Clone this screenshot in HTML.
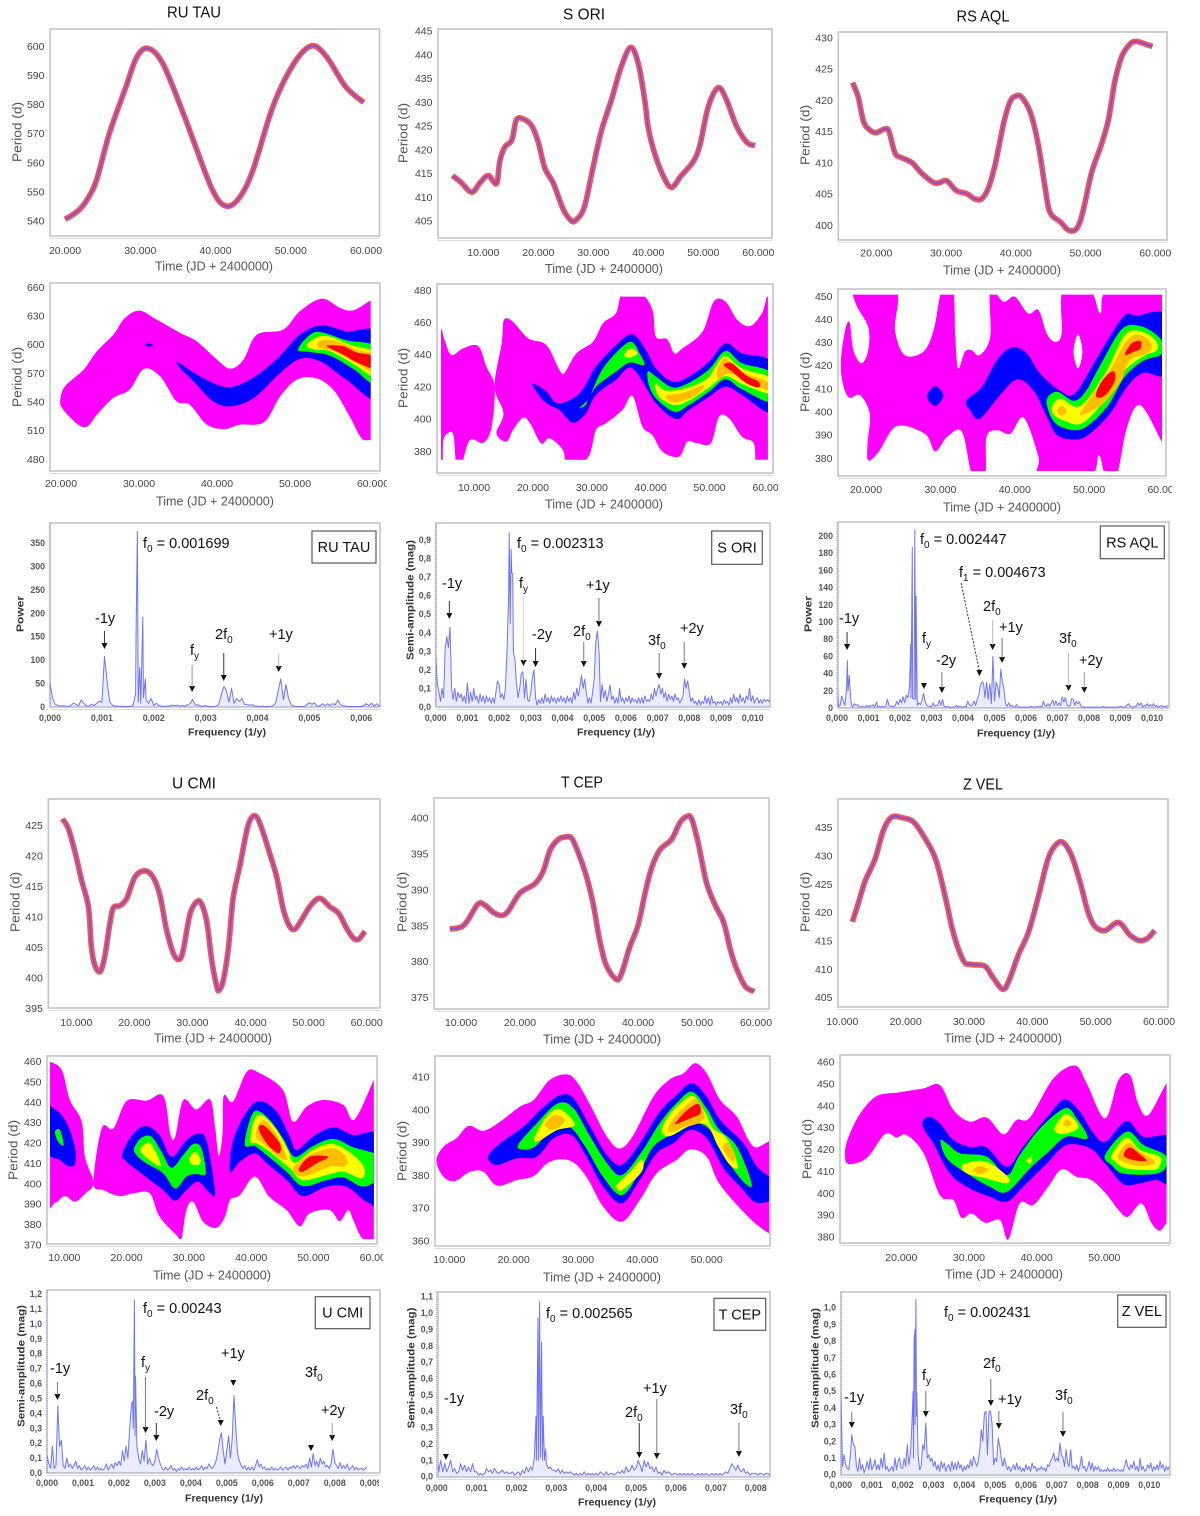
<!DOCTYPE html>
<html lang="en">
<head>
<meta charset="utf-8">
<title>Period variation, wavelet and frequency spectra of six Mira stars</title>
<style>
html,body{margin:0;padding:0;background:#fff;width:1200px;height:1516px;overflow:hidden}
svg{display:block;font-family:"Liberation Sans",sans-serif;filter:blur(.35px)}
</style>
</head>
<body>
<svg id="figure" xmlns="http://www.w3.org/2000/svg" width="1200" height="1516" viewBox="0 0 1200 1516"></svg>
<script>
// ---------- Ridge curves: [time in 1000 d, period in d] ----------
const ruTauRidge=[[20,540.5],[21,542],[22,544],[23,547.5],[24.2,554],[25.9,570],[28.1,586],[29.5,596],[31,599.2],[33,594],[35.7,577],[37,568],[39.6,550.5],[41.4,545],[43.2,548],[45,557.5],[47.6,579],[50.3,593.5],[52.7,600],[54.7,596.5],[57.3,586],[59.7,580.6]];
const sOriRidge=[[4.4,414.5],[6,413],[7.9,411],[9.4,413],[10.9,414.5],[12.4,412.8],[13,417.5],[13.9,420.5],[15.2,422],[16,426.2],[17.3,426.4],[18.8,425],[20,421.5],[21.2,416],[22.7,413],[24.5,407.5],[26,405],[26.9,405.2],[28.4,408],[30,416.5],[31.5,424],[33.3,430.5],[35.1,437.5],[36.8,441.5],[38.2,438],[39.4,430],[40,424.5],[41.2,419],[42.7,414.5],[44.2,412],[46,414.5],[48.2,417.5],[49.4,421],[50.9,429],[52.7,433],[54.2,430.5],[56,425],[57.9,421.5],[59.4,420.8]];
const rsAqlRidge=[[16.6,422.8],[17.4,420.5],[18.2,416.5],[19.1,415.2],[20,414.8],[21.2,415.4],[21.8,415],[22.7,411.5],[23.6,410.8],[25.1,410],[26.5,408.3],[28.2,406.8],[29.1,406.8],[30.1,407.1],[31.5,405.5],[33,405],[34.1,404.2],[35.1,404.2],[36.1,406],[37.1,410],[38.3,416.5],[39.2,419.8],[40.1,420.7],[40.9,420.4],[42.1,418],[43.2,413],[44.2,406],[44.9,402],[46.4,400.5],[47.5,399.2],[48.5,399.2],[49.2,400.5],[49.9,403.5],[50.9,408.5],[52.3,413],[53.3,417],[54.2,423],[55.2,427],[56.4,429],[57.3,429.4],[58.5,429],[59.6,428.6]];
const uCmiRidge=[[7.6,426],[8.6,424.5],[9.8,420.5],[10.9,416],[12.1,411.5],[12.6,405],[13.2,402],[14.1,401],[14.9,403.5],[15.8,409],[16.4,411.5],[17.5,411.8],[18.7,413],[20.1,416.5],[21.8,417.5],[23.2,416.5],[24.4,413.5],[25.5,408],[26.7,404],[27.7,403],[28.4,404.5],[29.6,410.5],[30.8,412.5],[31.6,412],[32.5,409],[33.3,403],[34.2,398.5],[34.6,398],[35.3,399.5],[36.2,405],[37,413],[38.2,418.5],[39.6,425],[40.8,426.5],[41.9,424.5],[43.4,420],[44.5,416.5],[45.7,411],[46.8,408.3],[47.7,408],[48.8,409.5],[50.3,411.8],[51.9,413],[53.7,411.6],[55.2,410.5],[56.6,408],[57.7,406.5],[58.6,406.3],[59.7,407.6]];
const tCepRidge=[[8.1,384.5],[10.1,384.8],[11.2,385.8],[12.9,388],[14.1,387.8],[15.5,386.8],[16.9,386.4],[18,387],[20,389.5],[22.5,390.8],[23.9,392.5],[25.1,395.5],[26.5,397],[27.6,397.3],[28.7,397.2],[29.8,395.3],[31.2,392],[32.4,388],[33.5,383],[34.6,379.5],[36.3,377.5],[37.2,378.3],[38.6,382],[40,385],[41.2,389.5],[42.3,393],[43.7,395.5],[45.7,397],[47.1,399.3],[48.3,400.2],[49.1,399.8],[50.2,396.5],[51.6,391],[53.1,387.8],[54.5,385.5],[55.7,381.5],[56.8,378.8],[58.2,376.5],[59.7,375.8]];
const zVelRidge=[[11.6,418.3],[12.5,421.5],[13.6,425.5],[15.2,429.5],[16.5,434.5],[17.8,436.8],[19.4,436.7],[21.2,436],[22.8,433.5],[24.7,429.5],[26.2,423],[27.5,416.5],[29.1,411.5],[30.4,410.8],[32.5,410.5],[33.8,408.5],[35.4,406.4],[36.5,408.5],[37.8,412.5],[39.4,416.5],[41,423],[42.5,429.5],[43.8,432],[44.9,432.3],[46.2,430],[47.5,425.5],[48.8,420],[49.9,417.5],[51.5,416.8],[53.6,418.2],[55.4,416],[57,415],[58.3,415.5],[59.3,416.8]];

// ---------- Wavelet contour loops: [level, [[time, period], ...]] ----------
const ruTauWavelet=[
["magenta",[[19.9,540.4],[20.5,556],[22.9,573.5],[24.6,592.7],[26.7,610],[28.2,627.6],[30.1,635.2],[32.3,625.8],[35.3,611.9],[37.4,603.1],[40,584],[41.7,574.5],[43.4,584],[45.1,610.1],[48.5,615.4],[50.6,634.5],[53.4,647.8],[55.8,638],[57.5,635.6],[59.7,646],[61,650],[61,495],[59.7,499.6],[58.5,502],[57,524.7],[54.9,552.6],[52.6,564.8],[50.2,563],[48.1,545.6],[46,518.4],[42.9,516],[41,511.4],[38.7,516],[36.5,536.9],[34.8,540.4],[32.7,566.5],[30.6,574.2],[28.8,552.6],[26.7,543.9],[24.6,526.4],[23.4,514.2],[22.2,516],[20.3,531.6]]],
["blue",[[30.8,599.3],[31.3,601],[31.8,599],[31.3,597.6]]],
["blue",[[35,581.2],[37.8,566.5],[41.2,555.4],[44.2,563],[47.6,584],[50.6,610.1],[53.4,619.9],[56.6,613.6],[60.5,611],[60.5,544],[56.6,563],[53.2,582.2],[50.6,584.7],[48.1,570],[44.7,543.8],[41.7,535],[39.5,540.4],[37.4,557.8],[35.3,575.2]]],
["green",[[50.4,594.4],[51.7,608.4],[53.2,612.9],[56.6,604.2],[60.5,596.2],[60.5,557.8],[57.5,574.2],[54.5,588.1],[51.9,592]]],
["yellow",[[51.5,598.6],[52.6,606.6],[54.3,608.4],[57,599.7],[60.5,590.2],[60.5,564.8],[57.5,579.4],[54.5,592.7],[52.6,594.4]]],
["orange",[[52.8,600.7],[53.8,604.9],[55.8,602.1],[57.9,594.4],[60.5,588.1],[60.5,569.3],[57.5,582.2],[54.9,592.7],[53.2,596.2]]],
["red",[[54.1,598.6],[56.2,597.9],[57.9,591.6],[60.5,586.8],[60.5,574.2],[58.1,580.5],[56.2,589.2],[54.7,595.1]]]];
const sOriWavelet=[
["magenta",[[4.4,456.2],[5.1,447.9],[6.2,439.6],[8.2,443.8],[10.7,445.2],[12.1,432.4],[13.5,420],[13,395.1],[11.6,385.2],[9.3,386.8],[7.9,372],[7,372],[6.5,389.9],[5.7,391.4],[4.8,386.8],[4.6,372],[3.6,372],[3.6,456.2]]],
["magenta",[[13.5,420],[14.7,446.9],[15.1,461.4],[16.6,460.3],[19.2,450],[22.3,445.8],[24.5,430.3],[25.4,428.7],[27.4,440.7],[30.2,447.9],[31.9,459.3],[34.1,465.5],[35.2,478],[38.3,478],[40.3,467.6],[40.9,451],[42.8,449.4],[44,440.7],[45.4,443.8],[48.8,454.1],[50.7,472.8],[52.7,472.8],[54.7,461.4],[56.9,457.6],[58.9,465.5],[60.6,477],[61,372],[58.1,370],[57.5,384.8],[55.5,388.9],[53.3,400.3],[51.6,401.3],[50.2,384.8],[47.9,384.8],[46.2,385.8],[44.8,376.5],[42,379.6],[40.3,389.9],[38.6,395.1],[36.9,414.2],[35.2,405.5],[32.4,397.2],[30.7,393],[29.6,377.5],[27.4,370],[25.7,370],[25.1,380.6],[22.8,387.9],[21.4,384.8],[19.5,397.2],[18.3,400.7],[16.6,393],[15.5,385.8],[13.8,391],[15,403.4]]],
["blue",[[19.9,422],[22.3,416.9],[24.3,409.6],[27.9,415.8],[30.7,432.4],[34.1,445.8],[36.9,452.5],[39.2,442.7],[40.9,431.3],[43.7,423.1],[46.5,426.2],[49.9,435.5],[52.7,446.9],[55.5,440.7],[60.6,434.5],[60.6,404.4],[55.5,414.8],[52.7,420],[49.9,413.7],[46.5,405.5],[44.3,399.9],[40.9,409.6],[36.9,431.3],[34.1,424.1],[30.7,414.8],[29,403.4],[26.8,397.6],[24.5,405.5],[22.8,408.6],[21.2,413.7]]],
["green",[[29.9,415.4],[31.9,431.3],[35.2,444.8],[36.9,447.5],[38.1,440.7],[38.9,433.4],[36.4,434.9],[34.1,429.3],[31,421]]],
["green",[[27.9,406.5],[29.2,411],[28.8,408]]],
["green",[[39.5,429.3],[40.9,426.2],[43.7,419.5],[46.5,422.4],[49.9,430.7],[52.7,442.1],[55.5,434.5],[60.6,428.2],[60.6,410.6],[55.5,418.3],[52.7,424.5],[49.9,416.9],[46.5,408.6],[44,404.4],[40.9,412.7],[39.7,421]]],
["yellow",[[35.5,439.6],[36.6,443.8],[37.8,440.7],[36.4,438]]],
["yellow",[[40.8,422],[42.6,417.5],[46.5,419.5],[49.6,425.1],[51,432.4],[52.7,439],[55.5,431.3],[60.6,425.1],[60.6,415.4],[55.5,421.6],[52.7,426.5],[49.9,419.5],[46.5,411.3],[44,408.6],[41.4,413.7]]],
["orange",[[42.6,414.2],[45.4,416.2],[49,421],[48.2,415.8],[45.9,411.7],[43.7,410.2]]],
["orange",[[51.3,430.3],[52.7,437.6],[55.5,429.3],[59.8,423],[59.8,417.9],[56.6,423],[53.3,428.2],[51.6,424.1],[51.3,426.2]]],
["red",[[52.4,433.4],[53.8,434.5],[56.1,427.2],[58.3,423],[58.3,419.5],[56.3,422],[53.8,429.3]]]];
const rsAqlWavelet=[
["magenta",[[16.6,420.9],[17.2,435.3],[17.8,438.5],[18.3,426.6],[19.4,420.9],[20.3,426.6],[20.3,436.7],[18.7,446.1],[18.7,452.6],[24,452.6],[23.9,435.3],[25.2,424.5],[27.7,425.9],[29.1,435.3],[30.2,452.6],[31.7,452.6],[32,432.4],[32.4,418.7],[33.3,425.9],[34.2,426.6],[35.3,424.5],[36.7,432.4],[36.7,452.6],[38.5,447.5],[40,449.7],[41.8,442.5],[43.2,443.9],[44.3,433.8],[45.4,430.2],[46.3,433.8],[46.5,452.6],[50.1,452.6],[51.5,442.5],[52.6,452.6],[60.4,452.6],[60.4,384.8],[59.8,386.9],[56.9,402.8],[55.1,393.4],[53.7,372.5],[52.2,372.5],[51.3,381.2],[50.1,372.5],[43.4,372.5],[43.2,380.4],[41.2,397.5],[39.4,390.5],[37.6,392],[36.2,389.1],[36,372.5],[34.3,372.5],[32.9,391.3],[30.9,389.1],[29.3,382.9],[27.9,390.5],[24.1,393.7],[21.7,382.6],[20.3,379],[20.2,386.2],[20.5,399.2],[19.2,407.1],[17.8,406],[17,410.7]]],
["hole",[[48.5,433.5],[49.1,425.9],[48.5,418.7],[47.9,425.9]]],
["blue",[[28.2,406.7],[29.3,411],[30.4,407.1],[29.3,402.5]]],
["blue",[[33.5,404.7],[35.6,410.8],[37.6,422.3],[39.6,427.8],[41.6,425.2],[43.4,416.5],[46.1,409],[48.1,407.9],[51,423],[54.6,441.1],[56.4,441.5],[60.4,441.5],[60.4,416.8],[57.3,416.8],[55.1,410.8],[52.8,399.2],[50.1,390.5],[48.3,388],[45.7,389.8],[44.3,397.8],[42.5,409.3],[40.3,413.9],[38,407.1],[35.3,397],[34,400.6]]],
["green",[[44.3,405],[45.7,408.6],[47.9,404.7],[49.5,408.6],[51.5,420.1],[54.4,435.6],[56.9,437],[59.1,433.1],[60,428.8],[59.6,424.5],[57.3,422],[54.8,415.1],[52.4,402.1],[49.2,392.7],[46.5,393.1],[45,397]]],
["yellow",[[45,402.1],[46.1,405.7],[48.3,402.1],[50.1,406.7],[52.4,418],[54.8,433.1],[56.9,434.8],[58.9,431],[59.1,426.6],[57.3,424],[54.6,417.2],[51.9,404.3],[49,394.9],[46.5,396.3],[45.2,398.9]]],
["orange",[[45.7,400.4],[46.3,402.5],[47,399.9],[46.2,398.2]]],
["orange",[[48.8,399.2],[50.4,407.1],[52.8,418],[55.1,431],[56.9,433.1],[58.4,429.2],[57.8,425.2],[55.5,422.3],[54.2,412.9],[51.9,403.5],[49.5,399.2]]],
["red",[[50.9,407.1],[51.5,412.2],[52.6,416.5],[53.4,417.2],[53.4,412.9],[52.4,407.9],[51.5,406.1]]],
["red",[[54.8,424.5],[55.7,429.5],[56.9,430.5],[56.9,427.3],[56,425.9]]]];
const uCmiWavelet=[
["magenta",[[7.2,459.8],[7.7,459.8],[9.6,455.7],[10.9,441],[12.8,430.4],[13.3,413.2],[14.7,400.4],[13.3,394.9],[11.7,391.1],[10.1,393.9],[8.5,390.6],[7.2,393.6]]],
["magenta",[[14.7,400.4],[16,427.1],[17.9,427.1],[20,440.5],[23.2,440.7],[25.9,443],[27,424.6],[27.8,423],[29.1,441],[31.2,436.4],[33.4,441.3],[34.2,427.9],[34.8,413.7],[35.4,424.6],[35.6,443.1],[37.1,440.2],[39.3,454.9],[41.4,454.1],[45.1,445.9],[46.7,430.4],[48.9,437.7],[51.6,441],[54.8,438.6],[56.6,431.5],[59.7,450.8],[60.6,455.7],[60.6,372.8],[58,372.8],[56.4,382.1],[55.6,387],[54.2,381.6],[52.6,387],[49.4,385.4],[47.8,379.1],[45.7,387],[42.9,393.6],[40.6,403.4],[38.2,394.4],[36.6,391.9],[35.8,383.7],[34.4,378.3],[32.3,381.3],[30.7,391.1],[29.6,387],[28.8,372.8],[28,374.7],[25.3,383.7],[23.7,395.2],[21.1,395.2],[18.9,393.9],[16.3,396.8]]],
["blue",[[7.2,436.4],[8.8,435.8],[10.4,429.6],[11.7,418.1],[11.7,409.6],[10.6,408.6],[9.3,411.6],[7.2,416.1]]],
["green",[[8.5,425.5],[9.3,426.3],[9.9,418.9],[9,420.6]]],
["blue",[[19.3,414.8],[21.1,424.6],[23.2,428.2],[25.3,423.8],[27.2,413.2],[29.4,420.6],[31.2,424.3],[32.8,421.4],[34.2,396],[33.4,395.2],[31.5,400.9],[29.6,396.8],[27.8,391.6],[25.9,396.8],[22.7,404.2],[20,410.7]]],
["green",[[21.2,417.3],[22.4,422.5],[24,423],[25.6,415.6],[27.2,407.8],[29.1,414],[30.7,419.4],[32,417.3],[32.7,405],[31.2,404.7],[29.6,403.4],[27.8,397.6],[25.9,405],[23.2,409.9],[21.6,414]]],
["yellow",[[22.3,417.3],[23.5,420.2],[24.5,416.5],[25.5,408.6],[23.7,411.6],[22.4,415]]],
["yellow",[[30.1,412.4],[31,415.6],[31.9,411.6],[31.5,409.1],[30.4,409.6]]],
["blue",[[36.6,405.8],[37.1,421.4],[39.3,435.3],[41.4,440.5],[44.1,435.3],[46.2,423],[47.3,416.5],[49.9,423],[53.2,427.6],[56.4,423.8],[60.6,423],[60.6,391.1],[58.5,391.1],[55.3,398.5],[52.1,398.5],[48.3,393.9],[45.7,401.7],[42.5,409.9],[40.6,414.8],[38.2,410.7]]],
["green",[[39,418.9],[39.8,431.2],[40.9,435.8],[43,431.2],[45.1,422.2],[47,413.2],[49.9,418.4],[53.2,421.9],[56.4,417.8],[60.6,413.2],[60.6,403.4],[58,398.5],[54.8,403],[52.1,401.7],[48.3,398.8],[45.7,405.8],[42.5,414],[40.6,418.4]]],
["yellow",[[39.9,420.6],[40.4,430.4],[41.7,433.6],[44.1,426.3],[45.9,416.5],[47,410.2],[49.9,416.5],[53.2,419.4],[56.4,414],[58.2,407.5],[57.7,402.6],[54.8,405.8],[52.1,404.2],[48.3,401.7],[46.2,407.5],[43,415.6],[40.9,419.7]]],
["orange",[[40.7,423.8],[41.9,431.2],[44.1,423.8],[45.7,412.4],[44.4,413.2],[41.9,419.7]]],
["orange",[[46.7,407.5],[49.4,414],[53.2,417.3],[55.3,412.4],[55,408.3],[52.6,408.3],[48.3,403.4]]],
["red",[[41.2,427.1],[42.2,428.2],[44.6,419.7],[44.4,414.8],[42.5,419.7]]],
["red",[[47.7,407.5],[49.4,413.2],[52.4,413.2],[50.5,409.9],[48.3,405.8]]]];
const tCepWavelet=[
["magenta",[[8,384.4],[9.1,388.7],[11.1,391.2],[13,395],[15.3,393.5],[17.9,396.3],[21,400.9],[23.1,402.9],[25.6,409],[28.2,410.7],[29.8,408.5],[31.9,401.4],[34.5,391.7],[36.5,388.1],[38.6,392.2],[41.7,403.9],[44.3,409.2],[46.4,411],[48.2,414.1],[50,411],[52.1,402.9],[54.7,397.8],[57.3,388.7],[60.9,388.7],[60.9,361.2],[59.7,362.2],[56.7,366.8],[52.1,377],[50,385.6],[47.4,387.8],[45.3,384.6],[42.2,380.5],[39.6,372.4],[36.8,365.8],[33.9,370.4],[31.3,379.5],[28.8,384.4],[25.6,384.1],[23.1,379.7],[20.5,378.5],[17.4,376.8],[15.3,381],[13.2,381],[10.9,378.2],[9.1,379.5]]],
["blue",[[16.1,386.1],[17.9,389.7],[21.5,394.8],[24.1,399.8],[27.2,404.4],[29.3,403.4],[31.9,394.8],[34.5,386.1],[36.8,383.1],[39.6,389.7],[42.7,399.3],[45.3,404.4],[47.7,408],[50,403.9],[52.1,396.8],[55.7,389.7],[57.8,382.6],[60.9,377.5],[60.9,373.4],[57.8,371.6],[55.2,376.5],[52.6,382.1],[50,391.2],[47.4,393.7],[44.8,389.7],[42.2,386.6],[39.6,378.5],[36.8,371.4],[33.9,376.5],[31.3,385.6],[29,392.2],[26.2,391.2],[23.6,385.6],[20.5,385.1],[17.6,383.1],[16.3,384.1]]],
["green",[[20.7,389.2],[23.6,395.8],[26.9,401.9],[29.3,400.3],[31.9,391.7],[34.5,383.6],[36.8,380],[39.9,387.1],[42.7,395.8],[45.3,401.9],[47.7,405.4],[50,400.3],[51.8,394.2],[54.7,388.7],[57,377.3],[55.7,378],[52.6,386.1],[50.3,394.2],[47.4,395.8],[44.8,392.7],[41.7,388.7],[39.6,381],[36.8,373.9],[33.9,379.5],[31.3,388.1],[28.8,394.6],[26.2,394.2],[23.3,388.7],[21.5,387.8]]],
["yellow",[[23.2,391.2],[25.1,397.8],[27.2,400.1],[29.5,395.3],[26.7,393.7],[23.9,390.4]]],
["yellow",[[36,377],[38.1,381],[39.9,384.8],[39.9,381],[36.8,375.4],[36,376.3]]],
["yellow",[[43,393.2],[43.8,397.3],[45.9,401.9],[47.9,404.1],[49.7,399.3],[51,394.2],[53.1,391.2],[54.9,382.6],[53.6,383.1],[51.8,388.7],[50,395.3],[47.4,395],[44.3,391.9]]],
["orange",[[24.9,395.8],[26.4,398.3],[28,396.8],[26.4,393.9],[25.1,394.6]]],
["orange",[[44,393.7],[44.8,397.3],[46.9,401.4],[48.4,403.1],[49.7,398.3],[48.7,395.8],[46.4,394.6],[44.8,393.2]]],
["orange",[[52.5,388.7],[53.4,389.9],[54.4,386.1],[54.1,384.1],[53.1,386.1]]],
["red",[[45.1,395.8],[46.9,399.8],[48.7,401.7],[49,398.8],[47.4,397.3],[45.6,395.8]]]];
const zVelWavelet=[
["magenta",[[11.7,419.6],[12.4,427.2],[14.1,437.1],[16.4,444.3],[19.8,446],[23.3,447.8],[25.7,449.3],[27.7,437.9],[30.1,432.6],[32.6,434.5],[35.1,426.8],[37,433.3],[39,434.5],[42.5,452.4],[45.7,458.2],[47.4,450.1],[50.1,434.1],[52.1,451.6],[53.8,453.9],[55,440.9],[56.5,435.6],[59.2,450.1],[60.2,450.1],[60.2,386.1],[59.2,386.1],[58.2,382.7],[57,386.1],[55.5,395.2],[53.5,389.1],[52.1,392.2],[50.3,399.5],[48.1,405.9],[45.9,407.4],[43.7,410.8],[41.7,402.8],[39.5,394.5],[37.5,395.2],[35.8,378.7],[34.6,387.6],[32.4,386.4],[30.4,390.6],[28.9,388.7],[27.7,396.7],[25.7,399],[23.3,418.1],[20.8,426.5],[19.3,425.4],[17.6,426.9],[15.1,416.6],[13.2,413.5],[11.9,413.8]]],
["blue",[[23.1,431],[24,434.8],[25.7,431.8],[27.7,424.2],[30.1,421.1],[32.6,420.8],[35.6,412],[38,421.1],[42,436.4],[44.2,442.8],[46.4,437.1],[48.1,428.7],[50.1,423.4],[53.3,432.9],[55.8,425.7],[60.2,425.2],[60.2,404.4],[57.7,405.9],[55.3,404.4],[52.8,404.1],[50.1,413.5],[47.9,420.4],[44.4,421.9],[41.5,413.5],[38,402.8],[35.6,396],[33.1,398.3],[30.1,402.1],[27.2,408.9],[24.7,422.7]]],
["green",[[25.8,424.2],[26.7,422.7],[28.7,418.1],[32.6,416.6],[35.6,408.2],[37.5,417.3],[40.5,429.5],[44.2,438.7],[45.9,434.1],[47.5,424.9],[44.4,425.7],[41.5,418.1],[39,411.2],[35.6,400.5],[33.1,402.8],[29.7,408.9],[27.2,414.3],[26.2,418.8]]],
["green",[[50.1,417.3],[53.3,428],[55.8,421.9],[59,417.3],[59,411.2],[57.2,408.6],[52.8,408.9],[51.1,412.7]]],
["yellow",[[29,412.7],[31.6,414.7],[33.6,412.7],[35.8,407.1],[35.6,404.4],[32.6,406.6],[29.7,408.9]]],
["yellow",[[42.7,430.3],[44.4,436.1],[46.2,430.3],[44.4,427.2],[43,427.5]]],
["yellow",[[38.5,414.7],[39.3,416.6],[39.1,413.5]]],
["yellow",[[51.1,417.3],[53.3,425.2],[55.3,419.6],[58.2,416.6],[58.2,412.7],[57.2,410.5],[53.3,411.2],[51.6,414.3]]],
["orange",[[30.6,410.5],[31.6,412.3],[32.9,410.5],[31.6,408.6]]],
["orange",[[43.9,431.8],[44.5,433.6],[45.2,431.8],[44.5,430.3]]],
["orange",[[52.1,418.1],[53.6,423],[55.3,418.8],[57.5,414.3],[55.8,412.3],[53.3,413.5],[52.1,415.8]]],
["red",[[53,418.8],[53.8,420.8],[55.1,418.1],[56.2,414.7],[54.3,415],[53,416.6]]]];

// ---------- Spectra: values every 0.00005 1/y, plus narrow peaks [frequency in 0.001 1/y, value] ----------
const ruTauSpectrum=[50,18,6,3,2,3,2,1,3,8,6,2,15,8,2,2,6,3,8,12,
10,108,55,12,4,2,2,1,2,1,1,1,3,28,10,8,20,15,8,18,
3,8,3,2,1,2,2,4,3,4,2,3,2,5,7,16,4,5,2,2,
3,1,1,1,2,5,25,44,35,10,40,8,18,12,18,6,5,4,5,2,
2,1,2,1,1,1,3,8,35,60,15,48,18,5,2,1,1,1,1,5,
9,6,9,2,2,7,3,7,3,7,5,15,5,3,2,1,1,1,1,1,
1,3,7,3,8,2,7,2,3];
const ruTauPeaks=[[1.66,162],[1.686,375],[1.73,85],[1.79,192],[1.84,60]];
const sOriSpectrum=[.27,.13,.08,.03,.1,.05,.32,.38,.32,.43,.1,.04,.1,.03,.08,.05,.07,.03,.06,.02,
.13,.02,.08,.03,.1,.04,.06,.02,.07,.03,.06,.02,.06,.03,.05,.02,.05,.02,.08,.14,
.12,.05,.07,.04,.1,.3,.6,.45,.72,.3,.25,.12,.05,.1,.18,.19,.05,.15,.04,.03,
.08,.16,.2,.05,.01,.04,.02,.05,.02,.07,.03,.05,.02,.06,.03,.05,.02,.05,.03,.06,
.03,.05,.02,.06,.03,.05,.02,.08,.04,.1,.06,.11,.17,.1,.15,.08,.02,.05,.02,.08,
.15,.35,.41,.3,.03,.12,.05,.09,.03,.07,.12,.04,.06,.02,.05,.02,.1,.03,.05,.02,
.05,.03,.06,.02,.05,.03,.04,.02,.05,.02,.05,.02,.06,.03,.04,.03,.07,.04,.1,.06,
.1,.12,.07,.1,.05,.08,.03,.07,.04,.06,.03,.07,.04,.05,.02,.04,.06,.15,.1,.14,
.08,.03,.05,.02,.03,.01,.04,.01,.03,.02,.06,.02,.05,.01,.06,.02,.03,.01,.03,.02,
.03,.01,.04,.02,.03,.01,.05,.02,.07,.03,.05,.02,.07,.03,.05,.02,.06,.04,.1,.03,
.06,.02,.04,.05,.02,.04,.02,.04,.03,.04,.03,.04];
const sOriPeaks=[[2.32,.94],[2.38,.85],[2.43,.72]];
const rsAqlSpectrum=[27,2,3,14,8,3,22,20,30,4,1,5,3,4,2,1,2,1,1,3,
1,3,2,4,1,7,1,2,1,2,1,2,10,3,2,2,1,3,8,4,
10,6,13,6,15,12,25,12,11,10,10,3,6,4,9,17,7,3,2,2,
1,6,2,3,3,9,3,10,2,1,2,1,1,1,1,1,3,1,2,1,
1,2,1,8,4,2,4,8,3,10,15,26,30,29,12,30,10,28,5,60,
8,30,25,12,45,30,22,5,2,6,2,3,1,1,4,1,1,1,1,1,
1,1,1,2,1,1,1,2,1,2,1,8,3,2,5,2,6,9,3,8,
3,6,3,13,7,12,4,2,3,11,10,3,8,5,7,2,1,1,1,1,
1,1,1,1,1,1,1,1,1,2,1,1,1,1,1,1,1,1,1,1,
2,1,1,1,3,5,2,1,1,2,2,6,3,6,1,3,2,5,2,4,
2,5,2,3,1,2,3,1,2,1,3];
const rsAqlPeaks=[[.33,55],[.39,38],[2.34,74],[2.39,187],[2.47,207],[2.51,130]];
const uCmiSpectrum=[.12,.06,.03,.18,.03,.05,.45,.18,.22,.05,.03,.1,.04,.06,.03,.05,.08,.03,.05,.02,
.03,.05,.02,.04,.02,.03,.05,.02,.04,.02,.03,.02,.03,.06,.02,.04,.06,.03,.07,.05,
.08,.05,.15,.08,.18,.1,.3,.46,.3,.25,.18,.1,.06,.15,.08,.22,.06,.1,.06,.05,
.08,.16,.1,.06,.03,.02,.04,.02,.03,.05,.02,.03,.01,.03,.02,.04,.02,.03,.02,.04,
.02,.03,.02,.04,.02,.03,.05,.02,.04,.03,.06,.04,.03,.05,.08,.14,.22,.27,.15,.06,
.15,.25,.1,.23,.52,.3,.13,.08,.05,.03,.05,.02,.04,.02,.04,.02,.05,.09,.04,.06,
.03,.04,.02,.03,.02,.04,.02,.03,.02,.03,.04,.02,.03,.04,.02,.04,.03,.05,.03,.05,
.04,.03,.05,.04,.06,.03,.1,.04,.13,.05,.08,.04,.1,.06,.08,.04,.05,.03,.06,.16,
.07,.05,.03,.07,.03,.05,.03,.06,.02,.03,.05,.02,.04,.02,.03,.03,.02,.03,.04];
const uCmiPeaks=[[2.38,.48],[2.43,1.16],[2.46,.65]];
const tCepSpectrum=[.14,.03,.1,.03,.08,.03,.06,.1,.03,.05,.02,.03,.08,.04,.07,.03,.06,.03,.08,.03,
.03,.01,.02,.01,.02,.05,.03,.04,.02,.05,.03,.02,.03,.04,.02,.03,.02,.02,.03,.01,
.02,.03,.01,.04,.02,.06,.03,.06,.04,.12,.1,.1,.12,.1,.1,.08,.05,.06,.04,.04,
.03,.05,.02,.04,.02,.03,.02,.03,.02,.01,.02,.01,.02,.01,.03,.01,.02,.01,.02,.01,
.02,.01,.03,.02,.01,.03,.01,.02,.02,.01,.02,.03,.02,.04,.02,.06,.03,.04,.07,.04,
.05,.1,.07,.03,.1,.06,.09,.05,.06,.03,.06,.02,.03,.01,.04,.02,.03,.02,.01,.02,
.02,.01,.02,.01,.02,.01,.02,.01,.02,.01,.01,.02,.01,.02,.01,.02,.01,.01,.02,.01,
.02,.01,.02,.01,.02,.03,.02,.05,.08,.06,.04,.07,.04,.03,.05,.02,.03,.01,.02,.02,
.02,.01,.02,.02,.01,.02,.02,.01,.02];
const tCepPeaks=[[2.49,.37],[2.54,.97],[2.58,1.07],[2.63,.82],[2.67,.37],[2.73,.17]];
const zVelSpectrum=[.47,.05,.12,.06,.04,.03,.1,.24,.18,.17,.05,.02,.1,.03,.06,.01,.04,.08,.03,.1,
.03,.05,.09,.03,.06,.03,.1,.04,.13,.03,.05,.02,.03,.05,.02,.1,.03,.08,.1,.04,
.04,.1,.05,.18,.06,.12,.3,.1,.3,.35,.12,.03,.05,.18,.15,.31,.1,.12,.08,.1,
.05,.08,.03,.06,.02,.08,.04,.07,.02,.05,.06,.02,.08,.03,.07,.03,.08,.04,.06,.02,
.05,.03,.06,.04,.09,.05,.11,.08,.05,.08,.14,.27,.2,.37,.38,.12,.38,.38,.3,.06,
.1,.08,.22,.17,.1,.05,.1,.06,.03,.05,.02,.04,.06,.03,.07,.03,.05,.02,.04,.02,
.06,.03,.05,.02,.07,.04,.05,.02,.04,.03,.05,.03,.04,.02,.06,.05,.08,.1,.13,.08,
.1,.08,.19,.12,.1,.05,.15,.07,.05,.15,.04,.05,.03,.06,.02,.05,.11,.04,.05,.02,
.04,.08,.03,.07,.02,.05,.03,.05,.02,.03,.02,.03,.02,.04,.02,.03,.02,.04,.02,.03,
.03,.02,.03,.02,.05,.09,.05,.03,.06,.04,.08,.03,.05,.02,.1,.03,.05,.02,.03,.06,
.04,.07,.02,.05,.03,.06,.03,.08,.04,.06,.02,.05,.03,.05];
const zVelPeaks=[[2.34,.5],[2.37,.8],[2.4,.87],[2.43,1.05],[2.46,.49]];

// ---------- Tick labels ----------
const ridgeTicksRuTau=[20,30,40,50,60], periodTicksRuTau=[540,550,560,570,580,590,600];
const ridgeTicksSOri=[10,20,30,40,50,60], periodTicksSOri=[405,410,415,420,425,430,435,440,445];
const ridgeTicksRsAql=[20,30,40,50,60], periodTicksRsAql=[400,405,410,415,420,425,430];
const ridgeTicksUCmi=[10,20,30,40,50,60], periodTicksUCmi=[395,400,405,410,415,420,425];
const ridgeTicksTCep=[10,20,30,40,50,60], periodTicksTCep=[375,380,385,390,395,400];
const ridgeTicksZVel=[10,20,30,40,50,60], periodTicksZVel=[405,410,415,420,425,430,435];
const waveTicksRuTau=[20,30,40,50,60], waveYRuTau=[480,510,540,570,600,630,660];
const waveTicksSOri=[10,20,30,40,50,60], waveYSOri=[380,400,420,440,460,480];
const waveTicksRsAql=[20,30,40,50,60], waveYRsAql=[380,390,400,410,420,430,440,450];
const waveTicksUCmi=[10,20,30,40,50,60], waveYUCmi=[370,380,390,400,410,420,430,440,450,460];
const waveTicksTCep=[10,20,30,40,50], waveYTCep=[360,370,380,390,400,410];
const waveTicksZVel=[20,30,40,50], waveYZVel=[380,390,400,410,420,430,440,450,460];
const freqTicks6=[0,1,2,3,4,5,6], freqTicks8=[0,1,2,3,4,5,6,7,8], freqTicks9=[0,1,2,3,4,5,6,7,8,9], freqTicks10=[0,1,2,3,4,5,6,7,8,9,10];
const powerTicksRuTau=[0,50,100,150,200,250,300,350];
const powerTicksRsAql=[0,20,40,60,80,100,120,140,160,180,200];
const ampTicksSOri=[0,.1,.2,.3,.4,.5,.6,.7,.8,.9];
const ampTicksUCmi=[0,.1,.2,.3,.4,.5,.6,.7,.8,.9,1,1.1,1.2];
const ampTicksTCep=[0,.1,.2,.3,.4,.5,.6,.7,.8,.9,1,1.1];
const ampTicksZVel=[0,.1,.2,.3,.4,.5,.6,.7,.8,.9,1];

// ---------- Helpers ----------
const NS='http://www.w3.org/2000/svg';
const figure=document.getElementById('figure');
const LEVEL_COLORS={magenta:'#ff00ff',hole:'#ffffff',blue:'#0000ff',green:'#00ff00',yellow:'#ffff00',orange:'#ffbf00',red:'#ff0000'};
let clipCount=0;
function linear(s){return v=>s[1]+(v-s[0])*(s[3]-s[1])/(s[2]-s[0]);}
function make(tag,attrs,parent){
  const el=document.createElementNS(NS,tag);
  for(const k in attrs)el.setAttribute(k,attrs[k]);
  parent.appendChild(el);
  return el;
}
function named(el,name){
  
  
  return el;
}
function label(parent,str,x,y,size,fill,name,extra){
  const el=make('text',Object.assign({x:x,y:y,'font-size':size,fill:fill},extra||{}),parent);
  el.textContent=str;
  return named(el,name);
}
function clipRect(x0,y0,x1,y1){
  const id='clip'+(clipCount++);
  const c=make('clipPath',{id:id},figure);
  make('rect',{x:x0,y:y0,width:x1-x0,height:y1-y0},c);
  return 'url(#'+id+')';
}
function smoothOpen(p){
  let d='M'+p[0][0].toFixed(1)+' '+p[0][1].toFixed(1);
  for(let i=0;i<p.length-1;i++){
    const a=p[i-1]||p[i],b=p[i],c=p[i+1],e=p[i+2]||c;
    d+='C'+(b[0]+(c[0]-a[0])/6).toFixed(1)+' '+(b[1]+(c[1]-a[1])/6).toFixed(1)+' '+(c[0]-(e[0]-b[0])/6).toFixed(1)+' '+(c[1]-(e[1]-b[1])/6).toFixed(1)+' '+c[0].toFixed(1)+' '+c[1].toFixed(1);
  }
  return d;
}
function smoothClosed(p){
  const n=p.length;
  let d='M'+p[0][0].toFixed(1)+' '+p[0][1].toFixed(1);
  for(let i=0;i<n;i++){
    const a=p[(i-1+n)%n],b=p[i],c=p[(i+1)%n],e=p[(i+2)%n];
    d+='C'+(b[0]+(c[0]-a[0])/6).toFixed(1)+' '+(b[1]+(c[1]-a[1])/6).toFixed(1)+' '+(c[0]-(e[0]-b[0])/6).toFixed(1)+' '+(c[1]-(e[1]-b[1])/6).toFixed(1)+' '+c[0].toFixed(1)+' '+c[1].toFixed(1);
  }
  return d+'Z';
}
function frame(g,box,slug){
  const r=make('rect',{x:box[0],y:box[1],width:box[2]-box[0],height:box[3]-box[1],fill:'none',stroke:'#c4c4c4','stroke-width':1.6},g);
  named(r,slug+'-plot-frame');
  const ax=make('line',{x1:box[0],x2:box[2],y1:box[3]+2.5,y2:box[3]+2.5,stroke:'#dcdcdc','stroke-width':1},g);
  named(ax,slug+'-x-axis-line');
}
function timeAxes(g,cfg,slug,sx,sy){
  const xg=make('g',{},g);
  named(xg,slug+'-x-ticks');
  if(cfg.tickClip)xg.setAttribute('clip-path',clipRect(0,cfg.box[1],cfg.tickClip,cfg.tickY+6));
  cfg.xTicks.forEach(t=>{
    label(xg,t+'.000',sx(t),cfg.tickY+4,10.5,'#444',slug+'-x-tick-label',{'text-anchor':'middle'});
  });
  cfg.yTicks.forEach(p=>{
    label(g,String(p),cfg.box[0]-5.5,sy(p)+3.8,10.5,'#444',slug+'-y-tick-label',{'text-anchor':'end'});
  });
  label(g,'Time (JD + 2400000)',cfg.timeLabel[0],cfg.timeLabel[1]+4.5,13,'#555',slug+'-x-axis-title',{'text-anchor':'middle',textLength:118,lengthAdjust:'spacingAndGlyphs'});
  label(g,'Period (d)',0,0,13,'#555',slug+'-y-axis-title',{'text-anchor':'middle',textLength:60,lengthAdjust:'spacingAndGlyphs',transform:'translate('+(cfg.periodLabel[0]+4.5)+' '+cfg.periodLabel[1]+') rotate(-90)'});
}

// ---------- Ridge (period vs time) ----------
function drawRidge(slug,data,cfg){
  const g=make('g',{},figure);
  named(g,slug+'-period-panel');
  const sx=linear(cfg.x),sy=linear(cfg.y);
  frame(g,cfg.box,slug+'-period');
  timeAxes(g,cfg,slug+'-period',sx,sy);
  label(g,cfg.title,cfg.titlePos[0],cfg.titlePos[1]+5.5,16,'#111',slug+'-title',{'text-anchor':'middle',textLength:cfg.titleLen,lengthAdjust:'spacingAndGlyphs'});
  const d=smoothOpen(data.map(q=>[sx(q[0]),sy(q[1])]));
  const outer=make('path',{d:d,fill:'none',stroke:'#f6505c','stroke-width':5.6,'stroke-linejoin':'round'},g);
  named(outer,slug+'-period-curve-outer');
  const inner=make('path',{d:d,fill:'none',stroke:'#6a58d8','stroke-width':1.5,'stroke-linejoin':'round'},g);
  named(inner,slug+'-period-curve-inner');
}

// ---------- Wavelet contours ----------
function drawWavelet(slug,loops,cfg){
  const g=make('g',{},figure);
  named(g,slug+'-wavelet-panel');
  const sx=linear(cfg.x),sy=linear(cfg.y);
  const plot=make('g',{'clip-path':clipRect(sx(cfg.window[0]),sy(cfg.window[3]),sx(cfg.window[1]),sy(cfg.window[2]))},g);
  named(plot,slug+'-wavelet-contours');
  loops.forEach(loop=>{
    const pts=loop[1].map(q=>[sx(q[0]),sy(q[1])]);
    const el=make('path',{d:smoothClosed(pts),fill:LEVEL_COLORS[loop[0]]},plot);
    named(el,slug+'-contour-'+loop[0]);
  });
  frame(g,cfg.box,slug+'-wavelet');
  timeAxes(g,cfg,slug+'-wavelet',sx,sy);
}

// ---------- Spectrum ----------
function richLabel(parent,str,x,y,slug){
  const el=make('text',{x:x,y:y,'font-size':14.5,fill:'#111'},parent);
  named(el,slug+'-peak-label');
  const m=str.match(/^([^_]*)_(.)(.*)$/);
  if(!m){el.textContent=str;return;}
  const a=make('tspan',{},el);a.textContent=m[1];
  const b=make('tspan',{dy:4,'font-size':10},el);b.textContent=m[2];
  if(m[3]){const c=make('tspan',{dy:-4},el);c.textContent=m[3];}
}
function drawSpectrum(slug,grid,peaks,cfg){
  const g=make('g',{},figure);
  named(g,slug+'-spectrum-panel');
  const sx=linear(cfg.x),sy=linear(cfg.y);
  frame(g,cfg.box,slug+'-spectrum');
  const zero=make('line',{x1:sx(0),x2:sx(0),y1:cfg.box[1],y2:sy(0),stroke:'#8f94e8','stroke-width':1,'stroke-dasharray':'1 1'},g);
  named(zero,slug+'-zero-frequency-line');
  const pts=grid.map((a,i)=>[i*0.05,a]).concat(peaks).sort((p,q)=>p[0]-q[0]);
  const plot=make('g',{'clip-path':clipRect(cfg.box[0],cfg.box[1],cfg.box[2],sy(0)+1)},g);
  named(plot,slug+'-spectrum-plot');
  const d='M'+pts.map(q=>sx(q[0]).toFixed(1)+' '+sy(q[1]).toFixed(1)).join('L');
  const haze=make('path',{d:d+'L'+sx(pts[pts.length-1][0]).toFixed(1)+' '+sy(0).toFixed(1)+'L'+sx(0).toFixed(1)+' '+sy(0).toFixed(1)+'Z',fill:'#7076f2','fill-opacity':.14},plot);
  named(haze,slug+'-spectrum-fill');
  const line=make('path',{d:d,fill:'none',stroke:'#7076f2','stroke-width':1,'stroke-linejoin':'round'},plot);
  named(line,slug+'-spectrum-line');
  const xg=make('g',{},g);
  named(xg,slug+'-frequency-ticks');
  if(cfg.tickClip)xg.setAttribute('clip-path',clipRect(0,cfg.box[1],cfg.tickClip,cfg.tickY+6));
  cfg.xTicks.forEach(t=>{
    label(xg,'0,'+String(t).padStart(3,'0'),sx(t),cfg.tickY+3,8.8,'#555',slug+'-x-tick-label',{'text-anchor':'middle','font-weight':'bold'});
  });
  cfg.yTicks.forEach(v=>{
    const s=cfg.power?String(v):v.toFixed(1).replace('.',',');
    label(g,s,cfg.box[0]-5,sy(v)+3,8.8,'#555',slug+'-y-tick-label',{'text-anchor':'end','font-weight':'bold'});
  });
  label(g,'Frequency (1/y)',cfg.freqLabel[0],cfg.freqLabel[1]+3.5,10.5,'#333',slug+'-x-axis-title',{'text-anchor':'middle','font-weight':'bold',textLength:78,lengthAdjust:'spacingAndGlyphs'});
  label(g,cfg.yTitle,0,0,10.5,'#333',slug+'-y-axis-title',{'text-anchor':'middle','font-weight':'bold',textLength:cfg.yTitleLen,lengthAdjust:'spacingAndGlyphs',transform:'translate('+(cfg.yTitlePos[0]+3.5)+' '+cfg.yTitlePos[1]+') rotate(-90)'});
  const lb=cfg.legend;
  const box=make('rect',{x:lb[0],y:lb[1],width:lb[2]-lb[0],height:lb[3]-lb[1],fill:'#fff',stroke:'#5a5a5a','stroke-width':1.2},g);
  named(box,slug+'-legend-box');
  label(g,cfg.title,(lb[0]+lb[2])/2,(lb[1]+lb[3])/2+5,14.5,'#111',slug+'-legend-text',{'text-anchor':'middle'});
  cfg.labels.forEach(a=>richLabel(g,a[0],a[1],a[2],slug));
  cfg.arrows.forEach(a=>{
    const x=sx(a[0]);
    const head=make('path',{d:'M'+(x-3)+' '+(a[2]-6)+'L'+(x+3)+' '+(a[2]-6)+'L'+x+' '+a[2]+'Z',fill:'#111'},g);
    named(head,slug+'-peak-arrow-head');
    if(a[2]-a[1]>8){
      const shaft=make('line',{x1:x,x2:x,y1:a[1],y2:a[2]-5,stroke:a[3]||'#333','stroke-width':1},g);
      named(shaft,slug+'-peak-arrow-shaft');
    }
  });
  (cfg.dashed||[]).forEach(a=>{
    const x1=sx(a[0]),x2=sx(a[2]);
    const dash=make('line',{x1:x1,y1:a[1],x2:x2,y2:a[3]-5,stroke:'#333','stroke-width':1,'stroke-dasharray':'2 1.5'},g);
    named(dash,slug+'-peak-dashed-leader');
    const head=make('path',{d:'M'+(x2-3)+' '+(a[3]-6)+'L'+(x2+3)+' '+(a[3]-6)+'L'+x2+' '+a[3]+'Z',fill:'#111'},g);
    named(head,slug+'-peak-arrow-head');
  });
}

// ---------- Row 1: ridges ----------
drawRidge('ru-tau',ruTauRidge,{title:'RU TAU',titleLen:54,titlePos:[194,12],box:[50,29,379.5,236],x:[20,65,60,366],y:[600,46,540,220.7],xTicks:ridgeTicksRuTau,yTicks:periodTicksRuTau,tickY:250,timeLabel:[214,266],periodLabel:[17,132]});
drawRidge('s-ori',sOriRidge,{title:'S ORI',titleLen:42,titlePos:[584,14],box:[438,29,772,238],x:[10,483.3,60,758.3],y:[445,30.7,405,220.7],xTicks:ridgeTicksSOri,yTicks:periodTicksSOri,tickY:252,timeLabel:[604,268.5],periodLabel:[403,133]});
drawRidge('rs-aql',rsAqlRidge,{title:'RS AQL',titleLen:53,titlePos:[983,16],box:[838.3,32,1167,240],x:[20,876.3,60,1155.3],y:[430,37.7,400,225],xTicks:ridgeTicksRsAql,yTicks:periodTicksRsAql,tickY:252.5,timeLabel:[1002,270],periodLabel:[805,135]});

// ---------- Row 2: wavelets ----------
drawWavelet('ru-tau',ruTauWavelet,{box:[50,283,380,471],x:[20,61,60,373],y:[660,287,480,459],window:[19,59.7,480,660],xTicks:waveTicksRuTau,yTicks:waveYRuTau,tickY:483,tickClip:387,timeLabel:[215,501],periodLabel:[17,377]});
drawWavelet('s-ori',sOriWavelet,{box:[437,284,773,473],x:[10,474,60,768.5],y:[480,290,380,451],window:[4.4,59.9,374.6,475.9],xTicks:waveTicksSOri,yTicks:waveYSOri,tickY:487,tickClip:778,timeLabel:[604,504],periodLabel:[403,378]});
drawWavelet('rs-aql',rsAqlWavelet,{box:[838,289,1166,476],x:[20,866,60,1163.5],y:[450,296,380,458],window:[16.6,59.8,374.4,450.6],xTicks:waveTicksRsAql,yTicks:waveYRsAql,tickY:489,tickClip:1172,timeLabel:[1002,507],periodLabel:[805,382]});

// ---------- Row 3: spectra ----------
drawSpectrum('ru-tau',ruTauSpectrum,ruTauPeaks,{title:'RU TAU',power:true,box:[50,523,380,707],x:[0,50,6,361.2],y:[0,707,350,543],xTicks:freqTicks6,yTicks:powerTicksRuTau,tickY:718,freqLabel:[227,732],yTitle:'Power',yTitleLen:36,yTitlePos:[20,614],legend:[312,531,376,563],
labels:[['f_0 = 0.001699',143,548],['-1y',95,623],['f_y',190,655],['2f_0',215,639],['+1y',269,639]],
arrows:[[1.05,631,649],[2.74,665,692,'#999'],[3.35,653,681],[4.41,654,672,'#bbb']]});
drawSpectrum('s-ori',sOriSpectrum,sOriPeaks,{title:'S ORI',box:[436,523,770,707],x:[0,435.7,10,752.7],y:[0,707,.9,540],xTicks:freqTicks10,yTicks:ampTicksSOri,tickY:718,freqLabel:[616,732],yTitle:'Semi-amplitude (mag)',yTitleLen:120,yTitlePos:[410,600],legend:[711.7,531,762.3,564.3],
labels:[['f_0 = 0.002313',517,548],['-1y',442,588],['f_y',519,588],['+1y',586,590],['-2y',532,639],['2f_0',573,636],['3f_0',648,645],['+2y',680,633]],
arrows:[[.43,601,619],[2.77,595,666,'#ddd'],[3.15,648,667],[4.67,642,667,'#777'],[5.15,598,627,'#777'],[7.05,653,679,'#777'],[7.84,642,669,'#777']]});
drawSpectrum('rs-aql',rsAqlSpectrum,rsAqlPeaks,{title:'RS AQL',power:true,box:[838,522,1169,708],x:[0,837,10,1152],y:[0,708,200,536],xTicks:freqTicks10,yTicks:powerTicksRsAql,tickY:718,freqLabel:[1016,733],yTitle:'Power',yTitleLen:36,yTitlePos:[808,614],legend:[1100.3,526,1164.3,558.7],
labels:[['f_0 = 0.002447',920,544],['f_1 = 0.004673',959,577],['-1y',839,623],['2f_0',983,611],['+1y',999,632],['f_y',922,643],['-2y',936,665],['3f_0',1059,643],['+2y',1079,665]],
arrows:[[.32,632,650],[2.76,683,689],[3.33,672,693,'#777'],[4.94,620,650,'#bbb'],[5.24,638,663,'#777'],[7.35,653,691,'#bbb'],[7.85,672,693,'#999']],dashed:[[3.94,583,4.52,676]]});

// ---------- Row 4: ridges ----------
drawRidge('u-cmi',uCmiRidge,{title:'U CMI',titleLen:44,titlePos:[194,783],box:[48.3,799,380,1008],x:[10,76.3,60,366.7],y:[425,825,395,1008.3],xTicks:ridgeTicksUCmi,yTicks:periodTicksUCmi,tickY:1022,timeLabel:[213,1038],periodLabel:[15,902]});
drawRidge('t-cep',tCepRidge,{title:'T CEP',titleLen:42,titlePos:[582,782],box:[434,798,769,1009],x:[10,461,60,756],y:[400,817.7,375,997.3],xTicks:ridgeTicksTCep,yTicks:periodTicksTCep,tickY:1022,timeLabel:[602,1039],periodLabel:[402,902]});
drawRidge('z-vel',zVelRidge,{title:'Z VEL',titleLen:40,titlePos:[983,784],box:[838,799,1168,1007],x:[10,842.3,60,1159],y:[435,827.3,405,997.3],xTicks:ridgeTicksZVel,yTicks:periodTicksZVel,tickY:1021,timeLabel:[1003,1038],periodLabel:[805,902]});

// ---------- Row 5: wavelets ----------
drawWavelet('u-cmi',uCmiWavelet,{box:[47,1056,377,1244],x:[10,64.3,60,375.7],y:[460,1061.3,370,1244.7],window:[7.7,59.7,372.8,465],xTicks:waveTicksUCmi,yTicks:waveYUCmi,tickY:1257,tickClip:383,timeLabel:[212,1275],periodLabel:[13,1150]});
drawWavelet('t-cep',tCepWavelet,{box:[435,1056,770,1246],x:[10,449.3,50,706.7],y:[410,1076.7,360,1240.7],window:[8,59.7,355,415],xTicks:waveTicksTCep,yTicks:waveYTCep,tickY:1259,timeLabel:[602,1277],periodLabel:[402,1151]});
drawWavelet('z-vel',zVelWavelet,{box:[840,1055,1170,1243],x:[20,901.3,50,1104.3],y:[460,1061.7,380,1236.7],window:[11.5,59.2,375,462],xTicks:waveTicksZVel,yTicks:waveYZVel,tickY:1257,timeLabel:[1004,1274],periodLabel:[807,1149]});

// ---------- Row 6: spectra ----------
drawSpectrum('u-cmi',uCmiSpectrum,uCmiPeaks,{title:'U CMI',box:[47,1290,380,1473],x:[0,47,9,370.7],y:[0,1473,1.2,1294],xTicks:freqTicks9,yTicks:ampTicksUCmi,tickY:1483,tickClip:379,freqLabel:[224,1498],yTitle:'Semi-amplitude (mag)',yTitleLen:122,yTitlePos:[21,1366],legend:[315.3,1296.7,370,1328.7],
labels:[['f_0 = 0.00243',143,1313],['-1y',50,1373],['f_y',141,1367],['+1y',221,1358],['2f_0',196,1400],['-2y',154,1416],['3f_0',305,1377],['+2y',321,1415]],
arrows:[[.29,1382,1400,'#777'],[2.74,1377,1433,'#777'],[3.04,1423,1441],[5.18,1381,1386],[7.34,1445,1451],[7.93,1423,1441,'#999']],dashed:[[4.71,1407,4.83,1426]]});
drawSpectrum('t-cep',tCepSpectrum,tCepPeaks,{title:'T CEP',box:[438,1292,770,1477],x:[0,436.7,8,755.7],y:[0,1476.7,1.1,1296.7],xTicks:freqTicks8,yTicks:ampTicksTCep,tickY:1488,freqLabel:[617,1502],yTitle:'Semi-amplitude (mag)',yTitleLen:121,yTitlePos:[411,1368],legend:[714,1298.3,765.7,1330.3],
labels:[['f_0 = 0.002565',546,1318],['-1y',444,1403],['+1y',643,1393],['2f_0',625,1417],['3f_0',730,1414]],
arrows:[[.23,1455,1460],[5.08,1423,1458],[5.52,1399,1459,'#777'],[7.58,1423,1457,'#777']]});
drawSpectrum('z-vel',zVelSpectrum,zVelPeaks,{title:'Z VEL',box:[841,1292,1170,1475],x:[0,841,10,1149.3],y:[0,1474.7,1,1307.7],xTicks:freqTicks10,yTicks:ampTicksZVel,tickY:1485,freqLabel:[1018,1499],yTitle:'Semi-amplitude (mag)',yTitleLen:120,yTitlePos:[815,1368],legend:[1117.7,1295,1166,1327.3],
labels:[['f_0 = 0.002431',944,1317],['f_y',922,1380],['2f_0',983,1368],['-1y',844,1402],['+1y',998,1404],['3f_0',1055,1400]],
arrows:[[.35,1412,1428,'#777'],[2.75,1391,1417,'#777'],[4.86,1379,1406,'#777'],[5.12,1411,1429,'#777'],[7.2,1412,1437,'#777']]});
</script>
</body>
</html>
